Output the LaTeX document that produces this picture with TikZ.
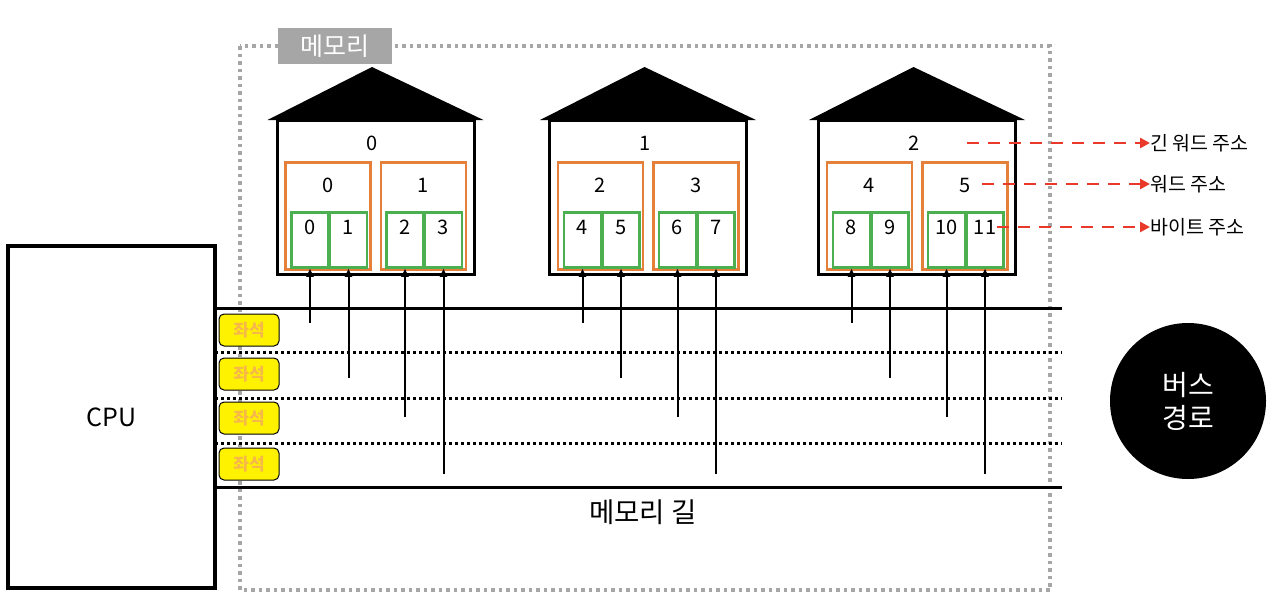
\documentclass[tikz,border=0pt]{standalone}
\usepackage{fontspec}
\setmainfont{Noto Sans CJK KR}
\usetikzlibrary{arrows.meta}
\definecolor{orangebox}{HTML}{E5803A}
\definecolor{greenbox}{HTML}{4CAF50}
\definecolor{redarrow}{HTML}{E8392B}
\definecolor{seattext}{HTML}{F7B84A}
\definecolor{graybox}{HTML}{A6A6A6}
\tikzset{
  housebody/.style={draw=black, line width=3pt, minimum width=197pt, minimum height=154pt, inner sep=0pt},
  roof/.style={fill=black},
  wordbox/.style={draw=orangebox, line width=2.5pt, minimum width=85pt, minimum height=107pt, inner sep=0pt},
  bytebox/.style={draw=greenbox, line width=2.5pt, minimum width=37pt, minimum height=55pt, inner sep=0pt},
  numlabel/.style={font=\fontsize{20pt}{22pt}\selectfont, inner sep=0pt},
  busline/.style={line width=3pt},
  dotline/.style={line width=3pt, dash pattern=on 3pt off 3pt},
  seatbox/.style={draw=black, line width=1pt, fill=yellow, rounded corners=5pt, minimum width=60pt, minimum height=32pt, inner sep=0pt, text=seattext, font=\fontsize{17pt}{19pt}\selectfont\bfseries},
  feed/.style={line width=2pt, -{Triangle[length=8pt,width=7pt]}},
  redarr/.style={draw=redarrow, line width=2.5pt, dash pattern=on 12pt off 9pt, -{Triangle[length=10pt,width=10pt]}},
  sidelabel/.style={anchor=west, inner sep=0pt, font=\fontsize{19.5pt}{21pt}\selectfont},
}
\begin{document}
\begin{tikzpicture}[x=1pt,y=-1pt]
\useasboundingbox (0,0) rectangle (1280,608);
\fill[white] (0,0) rectangle (1280,608);
% memory region
\draw[graybox, line width=3.5pt, dash pattern=on 3.5pt off 4pt] (240,46) rectangle (1050,590);
\node[fill=graybox, minimum width=114pt, minimum height=36pt, inner sep=0pt, text=white, font=\fontsize{25pt}{27pt}\selectfont] (memlabel) at (335,46) {메모리};
% houses
\foreach \h/\cx in {0/375.5,1/648,2/917}{
  \fill[roof] (\cx-108,120) -- (\cx-3.5,67) -- (\cx+108,120) -- cycle;
  \node[housebody] (house\h) at (\cx,197) {};
  \pgfmathtruncatemacro{\lw}{\h}
  \node[numlabel] (longword\h) at (\cx-3,143) {\lw};
  \foreach \j/\ox in {0/-47.5,1/48}{
    \pgfmathtruncatemacro{\wn}{2*\h+\j}
    \node[wordbox] (word\wn) at (\cx+\ox,216) {};
    \node[numlabel] (wordlbl\wn) at (\cx+\ox,185) {\wn};
  }
  \foreach \i/\ox/\ey in {0/-65.5/323,1/-27/378,2/29.5/417,3/68/474}{
    \pgfmathtruncatemacro{\bn}{4*\h+\i}
    \node[bytebox] (byte\bn) at (\cx+\ox,240) {};
    \node[numlabel] (bytelbl\bn) at (\cx+\ox,227) {\bn};
    \coordinate (feed\bn) at (\cx+\ox,\ey);
    \draw[feed] (feed\bn) -- (byte\bn.south);
  }
}
% CPU
\node[draw=black, line width=4pt, minimum width=207pt, minimum height=342pt, inner sep=0pt, font=\fontsize{25pt}{27pt}\selectfont] (cpu) at (111.5,417) {CPU};
% bus lines
\coordinate (b1s) at (215,308); \coordinate (b1e) at (1062,308);
\coordinate (b2s) at (215,352); \coordinate (b2e) at (1062,352);
\coordinate (b3s) at (215,398); \coordinate (b3e) at (1062,398);
\coordinate (b4s) at (215,443); \coordinate (b4e) at (1062,443);
\coordinate (b5s) at (215,487); \coordinate (b5e) at (1062,487);
\draw[busline] (b1s) -- (b1e);
\draw[dotline] (b2s) -- (b2e);
\draw[dotline] (b3s) -- (b3e);
\draw[dotline] (b4s) -- (b4e);
\draw[busline] (b5s) -- (b5e);
% seats
\node[seatbox] (seat1) at (249,330) {좌석};
\node[seatbox] (seat2) at (249,374) {좌석};
\node[seatbox] (seat3) at (249,418) {좌석};
\node[seatbox] (seat4) at (249,464) {좌석};
% memory road label
\node[font=\fontsize{27.5pt}{29pt}\selectfont, inner sep=0pt] (road) at (643,512) {메모리 길};
% bus circle
\node[circle, fill=black, minimum size=156pt, inner sep=0pt, text=white, align=center, font=\fontsize{28pt}{33pt}\selectfont] (bus) at (1188,401) {버스\\경로};
% address labels
\node[sidelabel] (lwaddr) at (1150,143) {긴 워드 주소};
\node[sidelabel] (waddr) at (1150,184) {워드 주소};
\node[sidelabel] (baddr) at (1150,227) {바이트 주소};
\coordinate (lwstart) at (967,143);
\coordinate (wstart) at (982,184);
\coordinate (bstart) at (997,227);
\draw[redarr] (lwstart) -- (lwaddr.west);
\draw[redarr] (wstart) -- (waddr.west);
\draw[redarr] (bstart) -- (baddr.west);
\end{tikzpicture}
\end{document}
